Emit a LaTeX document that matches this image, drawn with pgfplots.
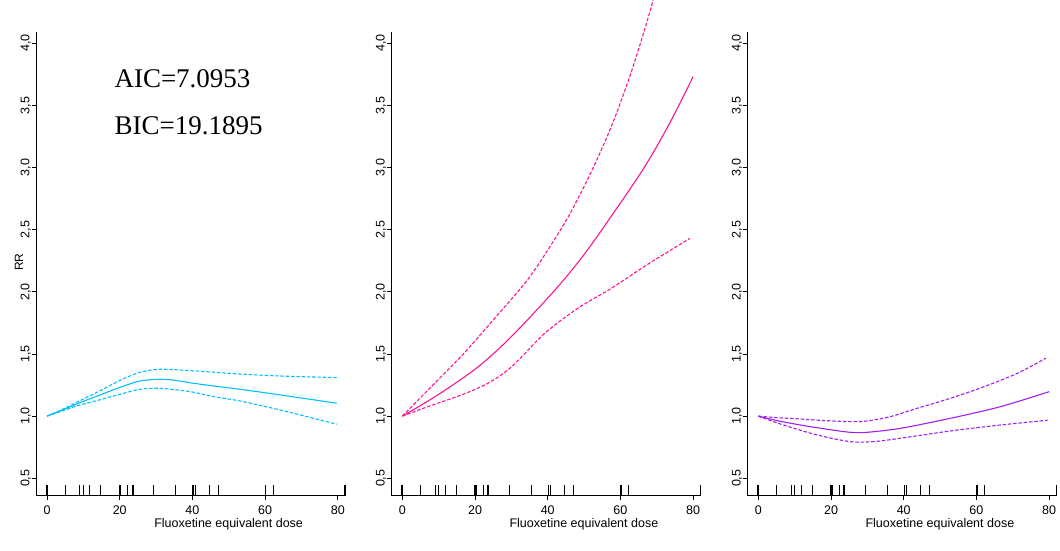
\documentclass[border=0pt]{standalone}
\usepackage{pgfplots}
\pgfplotsset{compat=1.18}
\usepackage{fontspec}
\setmainfont{Liberation Sans}
\newfontfamily\timesfont{Liberation Serif}

\definecolor{c1}{HTML}{00BFFF}
\definecolor{c2}{HTML}{FF1493}
\definecolor{c3}{HTML}{A020F0}

\pgfplotsset{
 panel/.style={
  scale only axis, width=309pt, height=463.4pt,
  xmin=-3, xmax=82, ymin=0.36, ymax=4.088,
  axis lines=left,
  axis line style={line width=0.9pt},
  every outer x axis line/.append style={-},
  every outer y axis line/.append style={-},
  tick align=outside, major tick length=4pt,
  tick style={line width=0.9pt, black},
  xtick={0,20,40,60,80},
  xticklabels={0,20,40,60,80},
  ytick={0.5,1,1.5,2,2.5,3,3.5,4},
  yticklabels={{0,5},{1,0},{1,5},{2,0},{2,5},{3,0},{3,5},{4,0}},
  ticklabel style={font=\fontsize{12.5}{14}\selectfont},
  yticklabel style={rotate=90, anchor=south, inner sep=1pt},
  xticklabel style={anchor=north, inner sep=1pt, yshift=-5pt},
  clip=false,
  anchor=south west,
 },
 rugthin/.style={only marks, mark=|, mark size=5.35pt, black, mark options={line width=1pt}},
 rugthick/.style={only marks, mark=|, mark size=5.35pt, black, mark options={line width=1.8pt}},
 est/.style={smooth, line width=1.1pt},
 ci/.style={smooth, line width=1.1pt, dash pattern=on 3.5pt off 1.8pt},
}

\newcommand{\rugs}{%
  \addplot[rugthin] coordinates {(5,0.403) (9,0.403) (10,0.403) (11.8,0.403) (14.8,0.403) (20.3,0.403) (22.2,0.403) (29.4,0.403) (35.4,0.403) (40.9,0.403) (44.6,0.403) (47.2,0.403) (62.3,0.403)};
  \addplot[rugthick] coordinates {(0,0.403) (20,0.403) (23.6,0.403) (40.2,0.403) (60.1,0.403) (82,0.403)};
  \node[anchor=base, font=\fontsize{12.5}{14}\selectfont, yshift=-32pt] at (axis description cs:0.623,0) {Fluoxetine equivalent dose};
}

\begin{document}
\begin{tikzpicture}
\useasboundingbox (0,0) rectangle (1060pt,551pt);

% Panel 1
\begin{axis}[panel, at={(36.1pt,55.3pt)}]
\rugs
\addplot[c1, est] coordinates {(0,1.000) (5,1.058) (9.1,1.109) (15,1.175) (20.1,1.232) (25.6,1.283) (31.1,1.297) (33.8,1.294) (42.1,1.257) (53.1,1.216) (64.1,1.171) (79.7,1.104)};
\addplot[c1, ci] coordinates {(0,1.000) (5,1.065) (9.1,1.125) (15,1.21) (20.1,1.288) (25.6,1.353) (31.1,1.377) (39.4,1.366) (53.1,1.339) (64.1,1.323) (79.7,1.310)};
\addplot[c1, ci] coordinates {(0,1.000) (5,1.05) (9.1,1.09) (15,1.135) (20.1,1.176) (25.6,1.216) (31.1,1.224) (39.4,1.197) (45.8,1.157) (53.1,1.122) (64.1,1.050) (71.5,0.996) (79.7,0.935)};
\node[anchor=base west, font=\timesfont\fontsize{27}{30}\selectfont] at (axis cs:17.6,3.643) {AIC=7.0953};
\node[anchor=base west, font=\timesfont\fontsize{27}{30}\selectfont] at (axis cs:17.6,3.262) {BIC=19.1895};
\node[xshift=-17pt, rotate=90, anchor=center, font=\fontsize{12}{14}\selectfont] at (axis description cs:0,0.504) {RR};
\end{axis}

% Panel 2
\begin{axis}[panel, at={(391.4pt,55.3pt)}]
\rugs
\addplot[c2, est] coordinates {(0,1.00) (10,1.175) (20.9,1.398) (30,1.64) (42,2.015) (50,2.30) (58,2.63) (66.7,3.007) (73.6,3.36) (80,3.731)};
\addplot[c2, ci] coordinates {(0,1.00) (7.1,1.211) (16.3,1.485) (25.5,1.79) (35.1,2.122) (44.3,2.536) (48.9,2.784) (53.4,3.054) (58,3.367) (62.6,3.735) (66.3,4.075) (69.0,4.345)};
\addplot[c2, ci] coordinates {(0,1.00) (7.1,1.077) (16.3,1.171) (23.6,1.265) (30.1,1.398) (39.2,1.667) (48.4,1.87) (57.6,2.03) (67.2,2.216) (79.1,2.43)};
\end{axis}

% Panel 3
\begin{axis}[panel, at={(747.4pt,55.3pt)}]
\rugs
\addplot[c3, est] coordinates {(0,1.0) (5,0.965) (11.5,0.929) (18.4,0.897) (25.3,0.870) (29.9,0.870) (39.1,0.902) (52.9,0.983) (66.7,1.077) (80,1.197)};
\addplot[c3, ci] coordinates {(0,1.0) (5,0.988) (11.5,0.977) (18.4,0.964) (25.3,0.956) (29.9,0.961) (36.3,0.996) (43.7,1.063) (52.9,1.144) (62.1,1.237) (71.3,1.345) (79.1,1.466)};
\addplot[c3, ci] coordinates {(0,1.0) (6.9,0.929) (16.1,0.849) (25.3,0.795) (31.7,0.795) (39.1,0.822) (52.9,0.881) (66.7,0.929) (79.6,0.967)};
\end{axis}
\end{tikzpicture}
\end{document}
